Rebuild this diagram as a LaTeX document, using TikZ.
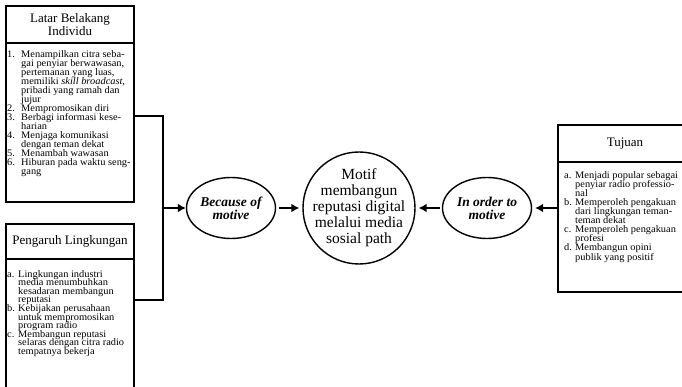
\documentclass[tikz,border=0pt]{standalone}
\usepackage{fontspec}
\setmainfont{Liberation Serif}
\newfontfamily\listfont[FakeStretch=1.04]{Liberation Serif}
\usetikzlibrary{shapes.geometric,arrows.meta,positioning}

\newlength{\itemgap}
\newcommand{\lnum}[1]{\makebox[\itemgap][l]{#1}}
\newcommand{\lcont}{\hspace*{\itemgap}}

\begin{document}
\begin{tikzpicture}[x=1pt,y=-1pt,
    panel/.style={draw, line width=1.6pt, outer sep=0pt},
    headtext/.style={align=center, font=\fontsize{13}{12.5}\selectfont},
    listtext/.style={anchor=north west, inner sep=0pt, align=left,
      font={\listfont\fontsize{10}{#1}\selectfont\lineskiplimit=-\maxdimen}},
    motive/.style={ellipse, draw, line width=1.4pt, minimum width=89pt, minimum height=61pt,
      inner sep=0pt, align=center, font=\fontsize{13.5}{13}\selectfont\bfseries\itshape},
    conn/.style={line width=2pt},
    >={Latex[length=8pt,width=9pt]}
  ]
  \clip (0,0) rectangle (682,387);

  % Left column: the two "because" sources
  \node[panel, headtext, minimum width=128pt, minimum height=37pt, anchor=north west] (lbi-head) at (6,6) {Latar Belakang\\Individu};
  \node[panel, minimum width=128pt, minimum height=159pt, below=0pt of lbi-head] (lbi-body) {};
  \setlength{\itemgap}{14pt}
  \node[listtext=9.0] (lbi-list) at (7,50.5) {%
    \lnum{1.}Menampilkan citra seba-\\
    \lcont gai penyiar berwawasan,\\
    \lcont pertemanan yang luas,\\
    \lcont memiliki \textit{skill broadcast},\\
    \lcont pribadi yang ramah dan\\
    \lcont jujur\\
    \lnum{2.}Mempromosikan diri\\
    \lnum{3.}Berbagi informasi kese-\\
    \lcont harian\\
    \lnum{4.}Menjaga komunikasi\\
    \lcont dengan teman dekat\\
    \lnum{5.}Menambah wawasan\\
    \lnum{6.}Hiburan pada waktu seng-\\
    \lcont gang};

  \node[panel, headtext, minimum width=128pt, minimum height=35pt, anchor=north west] (pl-head) at (6,224) {Pengaruh Lingkungan};
  \node[panel, minimum width=128pt, minimum height=140pt, below=0pt of pl-head] (pl-body) {};
  \setlength{\itemgap}{11pt}
  \node[listtext=8.6] (pl-list) at (7,270) {%
    \lnum{a.}Lingkungan industri\\
    \lcont media menumbuhkan\\
    \lcont kesadaran membangun\\
    \lcont reputasi\\
    \lnum{b.}Kebijakan perusahaan\\
    \lcont untuk mempromosikan\\
    \lcont program radio\\
    \lnum{c.}Membangun reputasi\\
    \lcont selaras dengan citra radio\\
    \lcont tempatnya bekerja};

  % Middle: motives and the central motif
  \coordinate (merge) at (163,208);
  \node[motive] (because) at (231,208) {Because of\\motive};
  \node[circle, draw, line width=1.4pt, minimum size=112pt, inner sep=-12pt, align=center,
    font=\fontsize{15.5}{16}\selectfont] (motif) at (359,208) {Motif\\membangun\\reputasi digital\\melalui media\\sosial path};
  \node[motive] (inorder) at (487,208) {In order to\\motive};

  % Right column: goals
  \node[panel, headtext, minimum width=134pt, minimum height=37pt, anchor=north west] (tj-head) at (558,125) {Tujuan};
  \node[panel, minimum width=134pt, minimum height=130pt, below=0pt of tj-head] (tj-body) {};
  \setlength{\itemgap}{11pt}
  \node[listtext=9.1] (tj-list) at (564,171) {%
    \lnum{a.}Menjadi popular sebagai\\
    \lcont penyiar radio professio-\\
    \lcont nal\\
    \lnum{b.}Memperoleh pengakuan\\
    \lcont dari lingkungan teman-\\
    \lcont teman dekat\\
    \lnum{c.}Memperoleh pengakuan\\
    \lcont profesi\\
    \lnum{d.}Membangun opini\\
    \lcont publik yang positif};

  % Connectors
  \draw[conn] ([yshift=6.5pt]lbi-body.east) -| (merge);
  \draw[conn] ([yshift=29pt]pl-body.east) -| (merge);
  \draw[conn, ->] (merge) -- (because.west);
  \draw[conn, ->, shorten <=3pt, shorten >=3pt] (because) -- (motif);
  \draw[conn, ->, shorten <=2pt, shorten >=3pt] (inorder) -- (motif);
  \draw[conn, ->, shorten >=3pt] (inorder -| tj-body.west) -- (inorder);
\end{tikzpicture}
\end{document}
